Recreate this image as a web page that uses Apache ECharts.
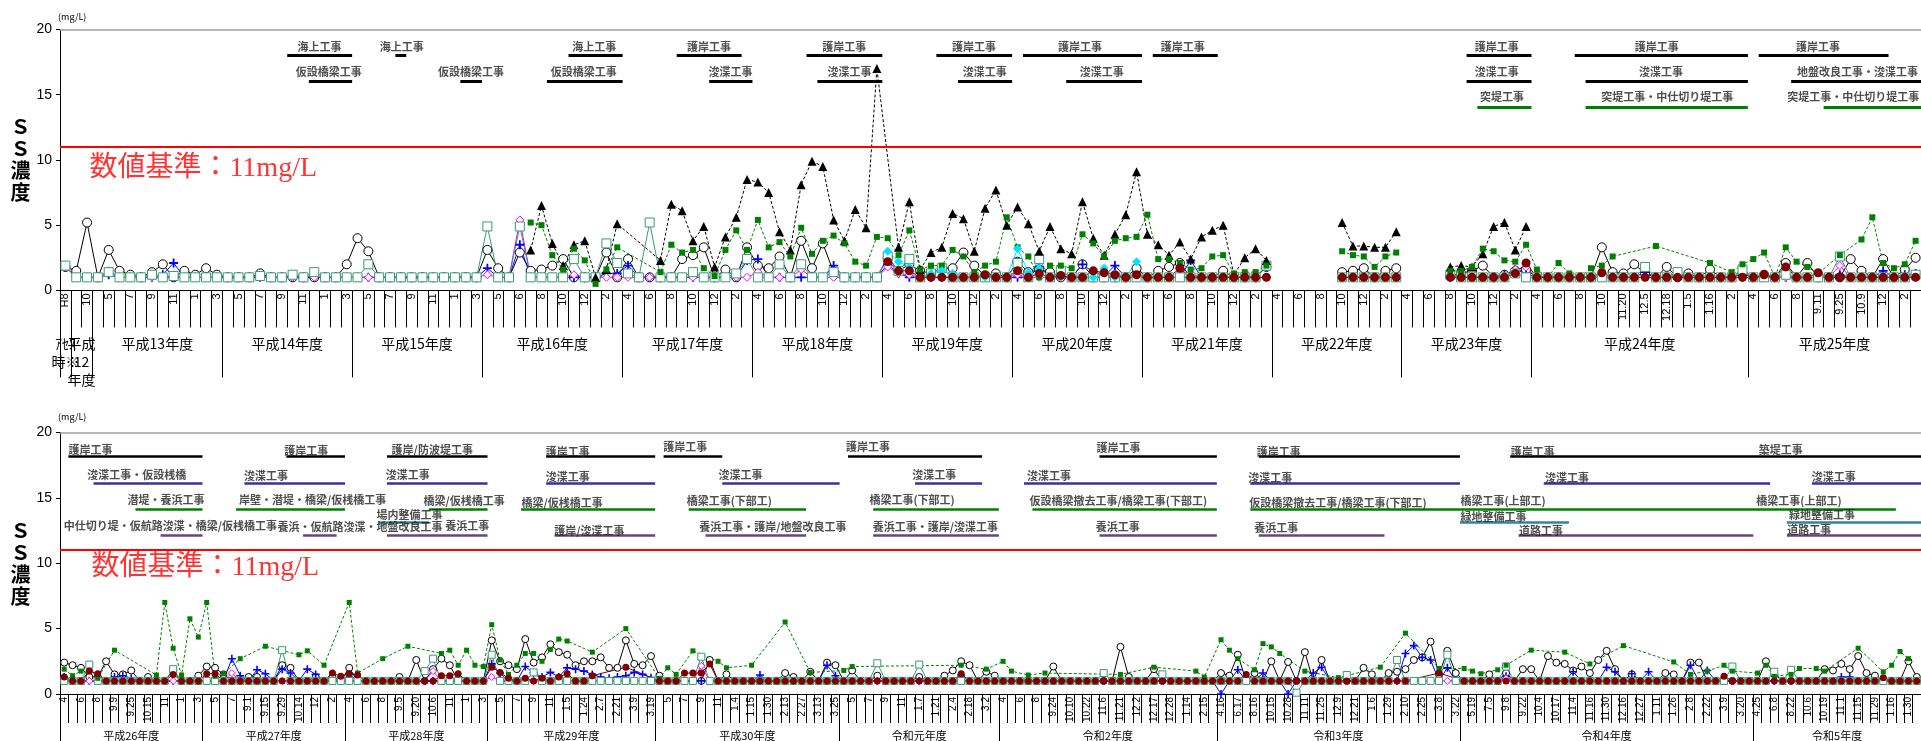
<!DOCTYPE html>
<html>
<head>
<meta charset="utf-8">
<script src="https://cdn.jsdelivr.net/npm/echarts@6/dist/echarts.min.js"></script>
<style>
html,body{margin:0;padding:0;background:#ffffff;}
#c{width:1921px;height:741px;}
</style>
</head>
<body>
<div id="c"></div>
<script>
const _ = null;
const THRESHOLD = 11;   // 数値基準 (mg/L)

const FONT_JP = '"Noto Sans CJK JP", sans-serif';
const FONT_NUM = '"Liberation Sans", Arial, sans-serif';
const FONT_SERIF = '"Liberation Serif", "Noto Sans CJK JP", serif';

/* ================= 上段：アセス時〜平成25年度 ================= */
const topYearNames = ['ｱｾｽ\n時※', '平成\n12\n年度', '平成13年度', '平成14年度', '平成15年度', '平成16年度',
  '平成17年度', '平成18年度', '平成19年度', '平成20年度', '平成21年度', '平成22年度', '平成23年度',
  '平成24年度', '平成25年度'];
const topYearSizes = [1, 2, 12, 12, 12, 13, 12, 12, 12, 12, 12, 12, 12, 20, 16];

const tickPre = ['H8', '', '10'];
const tickH13 = ['', '5', '', '7', '', '9', '', '11', '', '1', '', '3'];
const tickH14 = ['', '5', '', '7', '', '9', '', '11', '', '1', '', '3'];
const tickH15 = ['', '5', '', '7', '', '9', '', '11', '', '1', '', '3'];
const tickH16 = ['', '5', '', '6', '', '8', '', '10', '', '12', '', '2', ''];
const tickEven = ['4', '', '6', '', '8', '', '10', '', '12', '', '2', ''];
const tickH24 = ['4', '', '6', '', '8', '', '10', '', '11.20', '', '12.5', '', '12.18', '', '1.5', '', '1.16', '', '2', ''];
const tickH25 = ['4', '', '6', '', '8', '', '9.11', '', '9.25', '', '10.9', '', '12', '', '2', ''];
const topTickLabels = [].concat(tickPre, tickH13, tickH14, tickH15, tickH16,
  tickEven, tickEven, tickEven, tickEven, tickEven, tickEven, tickEven, tickH24, tickH25);

// measurement gaps split the polylines (平成22年度 / 平成23年度)
const topSegments = [[0, 112], [112, 124], [124, 172]];

const topCircle = [
  1.8,1.5,5.2,1.0,3.1,1.5,1.2,1.0,1.4,2.0,
  1.0,1.5,1.2,1.7,1.2,1.0,1.0,1.0,1.3,1.0,
  1.0,1.0,1.0,1.0,1.0,1.0,2.0,4.0,3.0,1.0,
  1.0,1.0,1.0,1.0,1.0,1.0,1.0,1.0,1.0,3.1,
  1.7,1.0,2.9,1.5,1.6,1.9,2.4,1.0,1.0,1.0,
  2.9,1.0,2.4,1.0,1.0,1.0,1.0,2.4,2.7,3.3,
  1.0,1.6,1.0,3.3,1.9,1.7,2.6,1.0,3.8,1.7,
  3.6,1.4,1.0,1.0,1.0,1.0,2.5,1.5,2.0,1.5,
  1.3,1.7,1.7,2.9,1.9,1.1,1.3,1.0,2.2,1.4,
  1.6,1.4,1.0,1.0,2.0,1.0,1.0,1.0,1.0,1.7,
  1.0,1.5,1.8,2.1,1.0,1.0,1.0,1.5,1.0,1.0,
  1.0,1.8,_,_,_,_,_,_,1.4,1.5,
  1.7,1.0,1.5,1.7,_,_,_,_,1.1,1.3,
  1.5,1.9,1.0,1.2,1.5,1.6,1.0,1.0,1.0,1.0,
  1.0,1.0,3.3,1.4,1.3,2.0,1.3,1.0,1.8,1.0,
  1.3,1.0,1.6,1.0,1.0,1.3,1.0,1.2,1.0,2.1,
  1.0,2.1,1.0,1.0,1.0,2.4,1.5,1.0,2.4,1.0,
  1.6,2.5];
const topPlus = [
  1.8,1.0,1.0,1.0,1.2,1.0,1.0,1.0,1.0,1.2,
  2.1,1.0,1.0,1.0,1.0,1.0,1.0,1.0,1.0,1.0,
  1.0,1.0,1.0,1.0,1.0,1.0,1.0,1.0,1.0,1.0,
  1.0,1.0,1.0,1.0,1.0,1.0,1.0,1.0,1.0,1.7,
  1.0,1.0,3.5,1.0,1.0,1.0,1.0,1.0,1.0,1.0,
  1.3,1.3,1.9,1.0,1.0,1.0,1.0,1.0,1.0,1.0,
  1.0,1.0,1.0,2.3,2.4,1.0,1.0,1.0,1.0,1.0,
  1.0,1.9,1.0,1.0,1.0,1.0,2.0,1.3,1.0,1.0,
  1.0,1.0,1.0,1.0,1.0,1.0,1.0,1.0,1.0,1.0,
  1.8,1.0,1.0,1.0,2.0,1.4,1.1,1.9,1.0,1.0,
  1.0,1.0,1.0,1.0,2.3,1.0,1.0,1.0,1.0,1.0,
  1.0,1.8,_,_,_,_,_,_,1.0,1.0,
  1.0,1.0,1.0,1.0,_,_,_,_,1.0,1.0,
  1.0,1.0,1.0,1.2,1.6,1.3,1.0,1.0,1.0,1.0,
  1.0,1.0,1.0,1.0,1.0,1.0,1.4,1.0,1.0,1.2,
  1.0,1.0,1.0,1.0,1.0,1.0,1.0,1.0,1.0,1.0,
  1.0,1.0,1.0,1.0,1.2,1.0,1.0,1.0,1.5,1.0,
  1.2,1.3];
const topDiamond = [
  1.8,1.0,1.0,1.0,1.5,1.0,1.0,1.0,1.0,1.0,
  1.0,1.0,1.0,1.0,1.0,1.0,1.0,1.0,1.0,1.0,
  1.0,1.0,1.1,1.0,1.0,1.0,1.0,1.0,1.0,1.0,
  1.0,1.0,1.0,1.0,1.0,1.0,1.0,1.0,1.0,1.2,
  1.0,1.0,5.4,1.0,1.0,1.0,1.0,1.2,1.0,1.0,
  1.0,1.0,1.0,1.0,1.0,1.0,1.0,1.0,1.0,1.0,
  1.0,1.0,1.0,1.0,1.4,1.0,1.0,1.0,1.6,1.0,
  1.0,1.0,1.0,1.0,1.0,1.0,1.8,1.3,1.2,1.0,
  1.0,1.0,1.0,1.0,1.0,1.0,1.0,1.0,1.2,1.0,
  1.0,1.0,1.0,1.0,1.0,1.0,1.0,1.2,1.0,1.0,
  1.0,1.0,1.0,1.0,1.0,1.0,1.0,1.0,1.0,1.0,
  1.0,1.0,_,_,_,_,_,_,1.0,1.0,
  1.0,1.0,1.0,1.0,_,_,_,_,1.0,1.0,
  1.0,1.0,1.0,1.0,1.6,1.8,1.0,1.0,1.0,1.0,
  1.0,1.0,1.0,1.0,1.0,1.0,1.0,1.0,1.0,1.0,
  1.0,1.0,1.0,1.0,1.0,1.0,1.0,1.0,1.0,1.0,
  1.0,1.0,1.0,1.0,1.9,1.0,1.0,1.0,1.0,1.0,
  1.0,1.0];
const topSquare = [
  1.9,1.0,1.0,1.0,1.4,1.0,1.0,1.0,1.2,1.0,
  1.1,1.0,1.0,1.0,1.0,1.0,1.0,1.0,1.1,1.0,
  1.0,1.2,1.0,1.4,1.0,1.0,1.0,1.0,2.0,1.0,
  1.0,1.0,1.0,1.0,1.0,1.0,1.0,1.0,1.0,4.9,
  1.0,1.0,4.9,1.0,1.0,1.0,1.0,2.4,1.0,1.0,
  3.6,2.1,1.3,1.0,5.2,1.0,1.0,1.0,1.4,1.0,
  1.0,1.0,1.3,2.4,1.0,1.0,2.0,1.0,2.0,1.0,
  1.0,1.4,1.0,1.0,1.0,1.0,2.6,1.5,2.4,1.0,
  1.3,1.7,1.0,1.0,1.0,1.0,1.0,1.0,2.1,1.0,
  2.4,1.0,1.5,1.0,1.0,1.0,1.0,1.0,1.0,1.0,
  1.0,1.0,1.0,1.0,1.0,1.0,1.0,1.0,1.0,1.0,
  1.0,1.9,_,_,_,_,_,_,1.0,1.0,
  1.0,1.0,1.0,1.0,_,_,_,_,1.2,1.0,
  1.0,1.0,1.0,1.0,1.3,1.0,1.0,1.0,1.0,1.0,
  1.0,1.0,1.0,1.0,1.0,1.0,1.8,1.0,1.0,1.4,
  1.0,1.0,1.0,1.0,1.0,1.6,1.0,1.0,1.0,1.2,
  1.0,1.0,1.0,1.0,2.6,1.0,1.0,1.0,1.0,1.0,
  1.0,1.2];
const topTriangle = [
  _,_,_,_,_,_,_,_,_,_,
  _,_,_,_,_,_,_,_,_,_,
  _,_,_,_,_,_,_,_,_,_,
  _,_,_,_,_,_,_,_,_,_,
  _,_,_,3.1,6.5,3.6,1.9,3.5,3.8,1.0,
  1.6,5.1,_,_,_,2.3,6.6,6.1,3.8,4.9,
  1.8,4.1,5.6,8.5,8.3,7.5,4.5,3.1,8.1,9.9,
  9.5,5.4,3.8,6.2,4.8,17.0,_,3.3,6.8,1.6,
  2.9,3.3,5.9,5.5,3.0,6.3,7.7,5.0,6.4,5.1,
  3.0,4.9,3.2,2.8,6.8,4.0,2.7,4.3,5.8,9.1,
  4.3,3.5,2.7,3.7,2.4,4.1,4.6,5.0,1.2,2.5,
  3.2,2.3,_,_,_,_,_,_,5.2,3.4,
  3.4,3.3,3.3,4.5,_,_,_,_,1.8,1.9,
  1.8,2.8,4.9,5.2,3.1,4.9,_,_,_,_,
  _,_,_,_,_,_,_,_,_,_,
  _,_,_,_,_,_,_,_,_,_,
  _,_,_,_,_,_,_,_,_,_,
  _,_];
const topGreen = [
  _,_,_,_,_,_,_,_,_,_,
  _,_,_,_,_,_,_,_,_,_,
  _,_,_,_,_,_,_,_,_,_,
  _,_,_,_,_,_,_,_,_,_,
  _,_,_,5.2,5.0,2.7,1.6,3.2,2.3,0.5,
  1.6,3.3,_,_,_,1.4,3.5,2.9,3.1,1.7,
  1.1,3.1,4.6,3.1,5.4,3.3,3.7,2.6,4.8,2.8,
  3.8,4.2,3.6,2.2,1.9,4.1,4.0,2.7,4.6,1.6,
  1.9,1.9,3.1,2.6,1.4,1.9,2.2,5.6,3.3,2.6,
  1.0,1.9,1.9,1.7,4.3,3.6,2.6,3.8,4.0,4.1,
  5.8,2.4,2.4,2.1,1.6,1.7,2.6,2.7,1.3,1.4,
  1.4,1.9,_,_,_,_,_,_,3.0,2.7,
  2.6,1.8,2.6,2.9,_,_,_,_,1.5,1.5,
  1.8,3.2,3.0,2.3,2.2,3.5,1.6,1.0,2.1,1.3,
  1.0,1.7,1.9,2.6,_,_,_,3.4,_,_,
  _,_,2.1,_,1.4,2.0,2.4,2.9,1.0,3.3,
  2.2,1.8,1.3,_,2.7,_,3.9,5.6,2.1,1.7,
  2.0,3.8];
const topCyan = [
  _,_,_,_,_,_,_,_,_,_,
  _,_,_,_,_,_,_,_,_,_,
  _,_,_,_,_,_,_,_,_,_,
  _,_,_,_,_,_,_,_,_,_,
  _,_,_,_,_,_,_,_,_,_,
  _,_,_,_,_,_,_,_,_,_,
  _,_,_,_,_,_,_,_,_,_,
  _,_,_,_,_,_,3.0,2.2,1.8,1.0,
  1.3,1.5,1.3,1.0,1.0,1.0,1.0,1.0,3.2,1.4,
  1.7,1.0,1.0,1.0,1.0,1.0,1.7,1.0,1.0,2.2,
  _,_,_,_,_,_,_,_,_,_,
  _,_,_,_,_,_,_,_,_,_,
  _,_,_,_,_,_,_,_,_,_,
  _,_,_,_,_,_,_,_,_,_,
  _,_,_,_,_,_,_,_,_,_,
  _,_,_,_,_,_,_,_,_,_,
  _,_,_,_,_,_,_,_,_,_,
  _,_];
const topMaroon = [
  _,_,_,_,_,_,_,_,_,_,
  _,_,_,_,_,_,_,_,_,_,
  _,_,_,_,_,_,_,_,_,_,
  _,_,_,_,_,_,_,_,_,_,
  _,_,_,_,_,_,_,_,_,_,
  _,_,_,_,_,_,_,_,_,_,
  _,_,_,_,_,_,_,_,_,_,
  _,_,_,_,_,_,2.2,1.5,1.5,1.0,
  1.0,1.0,1.0,1.0,1.0,1.2,1.0,1.0,1.5,1.0,
  1.3,1.0,1.15,1.0,1.0,1.5,1.35,1.2,1.0,1.2,
  1.0,1.0,1.0,1.7,1.0,1.0,1.0,1.0,1.0,1.0,
  1.0,1.0,_,_,_,_,_,_,1.0,1.0,
  1.0,1.0,1.0,1.0,_,_,_,_,1.0,1.0,
  1.0,1.0,1.0,1.0,1.3,2.1,1.0,1.0,1.0,1.0,
  1.0,1.0,1.35,1.0,1.0,1.0,1.0,1.0,1.0,1.0,
  1.0,1.0,1.0,1.0,1.0,1.0,1.0,1.2,1.0,1.8,
  1.0,1.0,1.35,1.0,1.0,1.0,1.0,1.0,1.0,1.0,
  1.0,1.0];

// 工事期間： [label, labelX, labelY, barFrom, barTo, barY, colour]
const topNotes = [
  ['海上工事', 21.9, 18.65, 21, 27, 18, 'k'],
  ['海上工事', 29.5, 18.65, 31, 32, 18, 'k'],
  ['仮設橋梁工事', 21.75, 16.75, 23, 27, 16, 'k'],
  ['仮設橋梁工事', 34.9, 16.75, 37, 39, 16, 'k'],
  ['海上工事', 47.3, 18.65, 47, 52, 18, 'k'],
  ['仮設橋梁工事', 45.3, 16.75, 45, 52, 16, 'k'],
  ['護岸工事', 57.9, 18.65, 57, 63, 18, 'k'],
  ['浚渫工事', 59.9, 16.75, 60, 64, 16, 'k'],
  ['護岸工事', 70.4, 18.65, 69, 76, 18, 'k'],
  ['浚渫工事', 70.9, 16.75, 70, 76, 16, 'k'],
  ['護岸工事', 82.4, 18.65, 81, 88, 18, 'k'],
  ['浚渫工事', 83.4, 16.75, 83, 88, 16, 'k'],
  ['護岸工事', 92.2, 18.65, 89, 100, 18, 'k'],
  ['浚渫工事', 94.2, 16.75, 93, 100, 16, 'k'],
  ['護岸工事', 101.7, 18.65, 101, 107, 18, 'k'],
  ['護岸工事', 130.7, 18.65, 130, 136, 18, 'k'],
  ['浚渫工事', 130.7, 16.75, 130, 136, 16, 'k'],
  ['突堤工事', 131.2, 14.85, 131, 136, 14, 'g'],
  ['護岸工事', 145.5, 18.65, 140, 156, 18, 'k'],
  ['浚渫工事', 145.9, 16.75, 141, 156, 16, 'k'],
  ['突堤工事・中仕切り堤工事', 142.4, 14.85, 141, 156, 14, 'g'],
  ['護岸工事', 160.4, 18.65, 157, 169, 18, 'k'],
  ['地盤改良工事・浚渫工事', 160.5, 16.75, 160, 172, 16, 'k'],
  ['突堤工事・中仕切り堤工事', 159.6, 14.85, 163, 172, 14, 'g']
];

/* ================= 下段：平成26年度〜令和5年度 ================= */
const botYearNames = ['平成26年度', '平成27年度', '平成28年度', '平成29年度', '平成30年度',
  '令和元年度', '令和2年度', '令和3年度', '令和4年度', '令和5年度'];
const botYearSizes = [17, 17, 17, 20, 22, 19, 26, 29, 35, 20];

const tickH26 = ['4', '', '6', '', '8', '', '9.9', '', '9.25', '', '10.15', '', '11', '', '1', '', '3'];
const tickH27 = ['', '5', '', '7', '', '9.1', '', '9.15', '', '9.29', '', '10.14', '', '12', '', '2', ''];
const tickH28 = ['4', '', '6', '', '8', '', '9.5', '', '9.20', '', '10.6', '', '11', '', '1', '', '3'];
const tickH29 = ['', '5', '', '7', '', '9', '', '11', '', '1.5', '', '1.24', '', '2.7', '', '2.21', '', '3.9', '', '3.19'];
const tickH30 = ['', '5', '', '7', '', '9', '', '11', '', '1.4', '', '1.15', '', '1.30', '', '2.13', '', '2.27', '', '3.13', '', '3.25'];
const tickR1 = ['', '5', '', '7', '', '9', '', '11', '', '1.7', '', '1.21', '', '2.4', '', '2.18', '', '3.2', ''];
const tickR2 = ['4', '', '6', '', '8', '', '9.24', '', '10.10', '', '10.22', '', '11.6', '', '11.21', '', '12.2', '', '12.17', '', '12.28', '', '1.14', '', '2.15', ''];
const tickR3 = ['4.16', '', '6.17', '', '8.16', '', '10.15', '', '10.28', '', '11.11', '', '11.25', '', '12.9', '', '12.21', '', '1.6', '', '1.29', '', '2.10', '', '2.25', '', '3.8', '', '3.22'];
const tickR4 = ['', '5.19', '', '7.5', '', '9.8', '', '9.22', '', '10.4', '', '10.17', '', '11.4', '', '11.16', '', '11.30', '', '12.16', '', '12.27', '', '1.11', '', '1.26', '', '2.8', '', '2.22', '', '3.9', '', '3.20', ''];
const tickR5 = ['4.25', '', '6.8', '', '8.22', '', '10.6', '', '10.19', '', '11.1', '', '11.15', '', '11.29', '', '1.16', '', '1.30', ''];
const botTickLabels = [].concat(tickH26, tickH27, tickH28, tickH29, tickH30, tickR1, tickR2, tickR3, tickR4, tickR5);
const botSegments = [[0, 222]];

const botCircle = [
  2.4,2.2,2.0,1.3,1.3,2.5,1.5,1.5,1.8,1.0,
  1.3,1.0,1.0,1.8,1.0,1.0,1.4,2.1,2.0,1.5,
  1.0,1.0,1.3,1.3,1.0,1.0,2.2,2.0,1.0,1.0,
  1.3,1.0,1.3,1.0,2.0,1.0,1.0,1.0,1.0,1.0,
  1.3,1.0,2.6,1.0,1.9,2.7,2.2,1.0,1.0,1.0,
  1.0,4.1,2.5,2.2,1.9,4.2,2.4,2.8,3.8,3.2,
  3.0,2.2,2.5,2.5,2.8,2.0,2.0,4.1,2.3,2.2,
  2.9,1.4,1.0,1.0,1.0,1.0,1.0,2.6,1.0,1.5,
  1.0,1.0,1.0,1.0,1.0,1.0,1.6,1.3,1.0,1.7,
  1.0,2.4,2.2,1.0,1.8,1.0,1.0,1.4,1.0,1.0,
  1.0,1.0,1.3,1.0,1.0,1.4,1.8,2.5,2.2,1.0,
  1.7,1.4,1.0,1.0,1.0,1.0,1.0,1.0,2.1,1.0,
  1.0,1.0,1.0,1.0,1.0,1.0,3.6,1.3,1.0,1.0,
  1.9,1.0,1.0,1.0,1.0,1.0,1.0,1.0,1.6,1.4,
  3.0,1.0,1.6,1.0,2.5,1.0,2.45,1.0,3.2,1.0,
  2.6,1.0,1.0,1.0,1.0,2.0,1.5,1.0,1.6,1.7,
  1.9,2.6,2.8,4.0,1.5,3.3,1.6,1.0,1.0,1.0,
  1.5,1.0,1.6,1.0,1.9,1.9,1.0,2.9,2.4,2.3,
  1.8,2.1,1.6,2.6,3.3,1.9,1.0,1.5,1.0,1.0,
  1.0,1.6,1.5,1.0,2.4,2.4,1.0,1.0,1.0,1.0,
  1.0,1.0,1.0,2.5,1.5,1.0,1.0,1.0,1.0,1.0,
  1.9,1.8,2.3,1.9,2.9,1.6,1.4,1.0,1.0,1.0,
  2.5,1.3];
const botPlus = [
  1.3,1.0,1.0,1.0,1.0,1.0,1.3,1.4,1.2,1.0,
  1.0,1.0,1.0,1.0,1.0,1.0,1.0,1.0,1.0,1.0,
  2.7,1.4,1.0,1.85,1.55,1.0,1.9,1.6,1.0,1.9,
  1.5,1.0,1.0,1.0,1.5,1.0,1.0,1.0,1.0,1.0,
  1.0,1.0,1.0,1.0,1.0,1.0,1.0,1.0,1.0,1.0,
  1.0,2.3,1.6,1.0,1.0,2.1,1.6,1.3,1.65,1.3,
  2.0,1.9,1.75,1.5,1.3,1.2,1.3,1.4,1.65,1.5,
  1.25,1.0,1.0,1.0,1.0,1.0,1.0,1.0,1.0,1.0,
  1.0,1.0,1.0,1.45,1.0,1.0,1.0,1.0,1.0,1.0,
  1.0,2.2,1.4,1.0,1.0,1.0,1.0,1.0,1.0,1.0,
  1.0,1.0,1.0,1.0,1.0,1.0,1.0,1.45,1.0,1.0,
  1.0,1.0,1.0,1.0,1.0,1.0,1.0,1.0,1.0,1.0,
  1.0,1.0,1.0,1.0,1.0,1.0,1.0,1.0,1.0,1.0,
  1.0,1.0,1.0,1.0,1.0,1.0,1.0,1.0,0.0,1.0,
  1.85,1.0,1.0,1.6,1.0,1.0,0.0,1.0,1.0,1.6,
  2.05,1.0,1.0,1.0,1.0,1.0,1.0,1.0,1.0,1.0,
  3.1,3.7,2.8,2.6,1.0,2.0,1.0,1.0,1.0,1.0,
  1.0,1.0,1.35,1.0,1.0,1.0,1.0,1.0,1.0,1.0,
  1.7,1.0,1.0,1.0,2.05,1.7,1.0,1.55,1.0,1.7,
  1.0,1.0,1.0,1.0,2.2,1.0,1.8,1.0,1.0,1.0,
  1.0,1.0,1.0,1.0,1.0,1.0,1.0,1.0,1.0,1.0,
  1.0,1.0,1.3,1.3,1.0,1.0,1.0,1.0,1.0,1.0,
  1.0,1.0];
const botDiamond = [
  1.0,1.0,1.0,1.0,1.0,1.0,1.0,1.0,1.0,1.0,
  1.0,1.0,1.0,1.0,1.0,1.0,1.0,1.0,1.0,1.0,
  1.6,1.0,1.0,1.0,1.0,1.0,1.0,1.0,1.0,1.0,
  1.0,1.0,1.0,1.0,1.0,1.0,1.0,1.0,1.0,1.0,
  1.0,1.0,1.0,1.0,1.75,1.0,1.0,1.0,1.0,1.0,
  1.0,1.3,1.0,1.0,1.0,1.0,1.0,1.0,1.0,1.0,
  1.0,1.0,1.0,1.0,1.0,1.0,1.0,1.0,1.0,1.0,
  1.0,1.0,1.0,1.0,1.0,1.0,2.15,1.0,1.0,1.0,
  1.0,1.0,1.0,1.0,1.0,1.0,1.0,1.0,1.0,1.0,
  1.0,1.0,1.0,1.0,1.0,1.0,1.0,1.0,1.0,1.0,
  1.0,1.0,1.0,1.0,1.0,1.0,1.0,1.0,1.0,1.0,
  1.0,1.0,1.0,1.0,1.0,1.0,1.0,1.0,1.0,1.0,
  1.0,1.0,1.0,1.0,1.0,1.0,1.0,1.0,1.0,1.0,
  1.0,1.0,1.0,1.0,1.0,1.0,1.0,1.0,1.0,1.0,
  1.0,1.0,1.0,1.0,1.0,1.0,1.0,1.0,1.0,1.0,
  1.0,1.0,1.0,1.0,1.0,1.0,1.0,1.0,1.0,1.0,
  1.0,1.0,1.0,1.0,1.0,1.0,1.0,1.0,1.0,1.0,
  1.0,1.0,1.2,1.0,1.0,1.0,1.0,1.0,1.0,1.0,
  1.0,1.0,1.0,1.0,1.0,1.0,1.0,1.0,1.0,1.0,
  1.0,1.0,1.0,1.0,1.0,1.0,1.0,1.0,1.0,1.0,
  1.0,1.0,1.0,1.0,1.0,1.0,1.0,1.0,1.0,1.0,
  1.0,1.0,1.0,1.0,1.0,1.0,1.0,1.0,1.0,1.0,
  1.0,1.0];
const botSquare = [
  1.0,1.0,1.0,2.25,1.0,1.0,1.0,1.0,1.0,1.0,
  1.0,1.0,1.0,1.9,1.0,1.0,1.0,1.0,1.0,1.0,
  1.0,1.0,1.0,1.0,1.0,1.0,3.35,1.0,1.0,1.0,
  1.0,1.0,1.0,1.0,1.0,1.0,1.0,1.0,1.0,1.0,
  1.0,1.0,1.0,1.75,2.7,1.0,1.0,1.0,1.0,1.0,
  1.0,3.0,1.0,1.0,1.0,1.0,1.65,1.0,1.0,1.0,
  1.0,1.0,1.0,1.0,1.0,1.0,1.0,1.0,1.0,1.0,
  1.0,1.0,1.0,1.0,1.0,1.0,2.85,1.0,1.0,1.0,
  1.0,1.0,1.0,1.0,1.0,1.0,1.0,1.0,1.0,1.0,
  1.0,1.0,1.0,1.0,1.0,1.0,1.0,2.35,1.0,1.0,
  1.0,1.0,2.25,1.0,1.0,1.0,1.0,1.0,1.0,1.0,
  1.0,1.0,1.0,1.0,1.0,1.0,1.0,1.0,1.0,1.0,
  1.0,1.0,1.0,1.0,1.6,1.0,1.0,1.0,1.0,1.0,
  1.0,1.5,1.0,1.0,1.0,1.0,1.0,1.0,1.0,1.0,
  1.0,1.0,1.0,1.0,1.0,1.0,1.0,0.1,1.0,1.0,
  1.0,1.0,1.0,1.45,1.0,1.0,1.0,1.0,1.0,2.6,
  1.0,1.0,1.0,1.0,1.0,3.0,1.0,1.0,1.0,1.0,
  1.0,1.0,2.1,1.0,1.0,1.0,1.0,1.0,1.0,1.0,
  1.0,1.0,1.0,1.0,1.0,1.0,1.0,1.0,1.0,1.0,
  1.0,1.0,1.0,1.0,1.0,1.0,1.0,1.0,1.0,2.1,
  1.0,1.0,1.0,1.0,1.7,1.0,1.85,1.0,1.0,1.0,
  1.0,1.0,1.0,1.0,1.0,1.0,1.0,1.0,1.0,1.0,
  1.0,1.0];
const botGreen = [
  1.9,1.4,1.75,_,1.2,_,3.35,_,_,_,
  _,1.45,7.0,3.5,1.45,5.75,4.35,7.0,1.35,1.55,
  _,2.7,_,_,3.65,_,_,_,3.0,3.3,
  _,2.2,_,_,7.0,1.6,_,_,2.7,_,
  _,3.65,_,_,_,3.1,3.35,2.2,3.35,2.2,
  2.1,5.3,2.6,1.5,2.2,3.1,3.1,2.5,3.4,4.2,
  4.05,_,_,3.2,_,_,_,5.0,_,_,
  _,1.2,2.0,1.5,_,3.3,_,_,2.5,2.0,
  _,_,2.2,_,_,_,5.5,_,_,1.65,
  _,_,_,1.8,2.1,_,_,_,_,_,
  _,_,_,_,_,_,_,2.2,_,_,
  1.9,_,2.5,1.75,_,1.45,_,1.6,_,_,
  _,_,_,_,_,_,1.5,_,_,_,
  2.05,_,_,_,_,1.75,1.3,_,4.15,3.35,
  2.7,_,1.85,3.85,3.6,3.1,_,_,1.75,_,
  _,_,1.25,_,_,_,_,2.05,_,_,
  4.65,_,_,_,1.95,_,_,1.95,1.75,1.55,
  _,1.85,2.2,_,_,3.35,_,_,_,3.2,
  _,_,2.3,_,_,_,3.7,_,_,_,
  _,_,2.45,_,1.5,_,1.75,_,2.2,1.75,
  _,_,1.6,2.2,1.35,_,1.5,1.95,_,1.95,
  1.75,_,_,_,3.5,_,_,1.7,2.2,3.25,
  2.7,_];
const botMaroon = [
  1.3,1.0,1.0,1.75,1.55,1.0,1.0,1.0,1.0,1.0,
  1.0,1.0,1.0,1.5,1.0,1.0,1.0,1.55,1.55,1.0,
  1.0,1.0,1.0,1.0,1.0,1.0,1.0,1.0,1.0,1.0,
  1.0,1.0,1.6,1.35,1.55,1.45,1.0,1.0,1.0,1.0,
  1.0,1.0,1.0,1.0,1.0,1.4,1.4,1.55,1.0,1.0,
  1.0,2.05,1.65,1.2,1.0,1.2,1.0,1.2,1.0,1.3,
  1.55,1.0,1.0,1.4,_,_,_,2.05,_,_,
  _,1.0,1.0,1.0,1.6,1.6,1.6,2.3,1.0,1.0,
  1.0,1.0,1.0,1.0,1.0,1.0,1.0,1.0,1.0,1.0,
  1.0,1.0,1.0,1.0,1.0,1.0,1.0,1.0,1.0,1.0,
  1.0,1.0,1.0,1.0,1.0,1.0,1.0,1.55,1.0,1.0,
  1.0,1.0,1.0,1.0,1.0,1.0,1.0,1.0,1.0,1.0,
  1.0,1.0,1.0,1.0,1.0,1.0,1.0,1.0,1.0,1.0,
  1.0,1.0,1.0,1.0,1.0,1.0,1.0,1.0,1.0,1.0,
  1.0,1.5,1.0,1.0,1.0,1.0,1.0,1.0,1.0,1.0,
  1.0,1.0,1.0,1.0,1.0,1.0,1.0,1.0,1.0,1.0,
  1.0,_,_,_,1.6,_,_,1.0,1.0,1.0,
  1.0,1.0,1.0,1.0,1.0,1.0,1.0,1.0,1.0,1.0,
  1.0,1.0,1.0,1.0,1.0,1.0,1.0,1.0,1.0,1.0,
  1.0,1.0,1.0,1.0,1.0,1.0,1.0,1.0,1.35,1.0,
  1.0,1.0,1.0,1.0,1.0,1.0,1.0,1.0,1.0,1.0,
  1.0,1.0,1.0,1.0,1.0,1.0,1.0,1.25,1.0,1.0,
  1.0,1.0];

const botNotes = [
  ['護岸工事', 0.95, 18.7, 1, 17, 18.15, 'k'],
  ['浚渫工事・仮設桟橋', 3.2, 16.75, 4, 17, 16.1, 'n'],
  ['潜堤・養浜工事', 8.0, 14.85, 9, 17, 14.1, 'g'],
  ['中仕切り堤・仮航路浚渫・橋梁/仮桟橋工事', 0.4, 12.85, 12, 17, 12.12, 'p'],
  ['護岸工事', 26.7, 18.6, 27, 34, 18.15, 'k'],
  ['浚渫工事', 21.9, 16.7, 22, 34, 16.1, 'n'],
  ['岸壁・潜堤・橋梁/仮桟橋工事', 21.3, 14.85, 21, 34, 14.1, 'g'],
  ['養浜・仮航路浚渫・地盤改良工事', 25.9, 12.8, 29, 33, 12.12, 'p'],
  ['護岸/防波堤工事', 39.5, 18.7, 39, 51, 18.15, 'k'],
  ['浚渫工事', 38.8, 16.75, 39, 51, 16.1, 'n'],
  ['橋梁/仮桟橋工事', 43.3, 14.8, 44, 51, 14.1, 'g'],
  ['場内整備工事', 37.7, 13.7, 38, 44, 13.1, 't'],
  ['養浜工事', 45.9, 12.85, 39, 51, 12.12, 'p'],
  ['護岸工事', 57.9, 18.55, 58, 71, 18.15, 'k'],
  ['浚渫工事', 57.9, 16.6, 58, 71, 16.1, 'n'],
  ['橋梁/仮桟橋工事', 55.0, 14.6, 55, 71, 14.1, 'g'],
  ['護岸/浚渫工事', 58.9, 12.5, 59, 71, 12.12, 'p'],
  ['護岸工事', 71.9, 18.9, 72, 79, 18.15, 'k'],
  ['浚渫工事', 78.5, 16.75, 79, 93, 16.1, 'n'],
  ['橋梁工事(下部工)', 74.7, 14.8, 75, 89, 14.1, 'g'],
  ['養浜工事・護岸/地盤改良工事', 76.2, 12.8, 77, 89, 12.12, 'p'],
  ['護岸工事', 93.7, 18.9, 94, 110, 18.15, 'k'],
  ['浚渫工事', 101.6, 16.75, 102, 110, 16.1, 'n'],
  ['橋梁工事(下部工)', 96.5, 14.85, 97, 112, 14.1, 'g'],
  ['養浜工事・護岸/浚渫工事', 96.9, 12.8, 97, 112, 12.12, 'p'],
  ['護岸工事', 123.6, 18.8, 124, 138, 18.15, 'k'],
  ['浚渫工事', 115.3, 16.7, 115, 138, 16.1, 'n'],
  ['仮設橋梁撤去工事/橋梁工事(下部工)', 115.6, 14.75, 116, 138, 14.1, 'g'],
  ['養浜工事', 123.5, 12.8, 124, 138, 12.12, 'p'],
  ['護岸工事', 142.7, 18.55, 143, 167, 18.15, 'k'],
  ['浚渫工事', 141.7, 16.5, 142, 167, 16.1, 'n'],
  ['仮設橋梁撤去工事/橋梁工事(下部工)', 141.8, 14.6, 142, 167, 14.1, 'g'],
  ['養浜工事', 142.4, 12.7, 143, 158, 12.12, 'p'],
  ['護岸工事', 173.0, 18.55, 173, 222, 18.15, 'k'],
  ['築堤工事', 202.6, 18.7, _, _, _, 'k'],
  ['浚渫工事', 177.1, 16.5, 177, 204, 16.1, 'n'],
  ['浚渫工事', 208.9, 16.6, 209, 222, 16.1, 'n'],
  ['橋梁工事(上部工)', 167.0, 14.75, 167, 219, 14.1, 'g'],
  ['橋梁工事(上部工)', 202.3, 14.75, _, _, _, 'g'],
  ['緑地整備工事', 167.0, 13.55, 167, 180, 13.1, 't'],
  ['緑地整備工事', 206.2, 13.7, 206, 222, 13.1, 't'],
  ['道路工事', 174.0, 12.5, 174, 202, 12.12, 'p'],
  ['道路工事', 206.0, 12.55, 206, 222, 12.12, 'p']
];

const NOTE_COLORS = { k: '#000000', n: '#333399', g: '#008000', t: '#31859c', p: '#604a7b' };

// marker / line styles of the monitoring points
const PLUS_PATH = 'path://M-1,-5H1V-1H5V1H1V5H-1V1H-5V-1H-1Z';
const STYLES = {
  circle:   { color: '#000000', symbol: 'circle', size: [9, 7], hollow: true, dash: false },
  plus:     { color: '#0000ff', symbol: PLUS_PATH, size: [9, 8], hollow: false, dash: false },
  diamond:  { color: '#ff00ff', symbol: 'diamond', size: [8, 7], hollow: true, dash: false },
  square:   { color: '#3a9a74', symbol: 'rect', size: [9, 7], hollow: true, dash: false },
  triangle: { color: '#000000', symbol: 'triangle', size: [9, 8], hollow: false, dash: true },
  green:    { color: '#008000', symbol: 'rect', size: [6, 5], hollow: false, dash: true },
  cyan:     { color: '#00e5ff', symbol: 'diamond', size: [9, 8], hollow: false, dash: false },
  maroon:   { color: '#800000', symbol: 'circle', size: [9, 7], hollow: false, dash: false }
};

const panels = [
  {
    top: 29.4, height: 261, cw: 10.85, n: 172, ticks: topTickLabels,
    yearNames: topYearNames, yearSizes: topYearSizes, segments: topSegments,
    tickLen: 37, yearTickLen: 87, tickFont: 11, yearFont: 14, yearMargin: 44,
    titlePad: 28, unitTop: 12, refLabelX: 2.67, refLabelY: 9.36, barW: 3, sizeIdx: 0,
    series: [['circle', topCircle], ['plus', topPlus], ['diamond', topDiamond], ['square', topSquare],
             ['triangle', topTriangle], ['green', topGreen], ['cyan', topCyan], ['maroon', topMaroon]],
    notes: topNotes
  },
  {
    top: 432.4, height: 262.1, cw: 8.44, n: 222, ticks: botTickLabels,
    yearNames: botYearNames, yearSizes: botYearSizes, segments: botSegments,
    tickLen: 29, yearTickLen: 60, tickFont: 10, yearFont: 11, yearMargin: 34,
    titlePad: 25, unitTop: 412, refLabelX: 3.7, refLabelY: 9.63, barW: 2.5, sizeIdx: 1,
    series: [['circle', botCircle], ['plus', botPlus], ['diamond', botDiamond], ['square', botSquare],
             ['green', botGreen], ['maroon', botMaroon]],
    notes: botNotes
  }
];

// consistency check of the tables
panels.forEach((p, k) => {
  if (p.ticks.length !== p.n) throw new Error('panel ' + k + ' ticks ' + p.ticks.length);
  const ys = p.yearSizes.reduce((a, b) => a + b, 0);
  if (ys !== p.n) throw new Error('panel ' + k + ' years ' + ys);
  p.series.forEach(s => { if (s[1].length !== p.n) throw new Error('panel ' + k + ' ' + s[0] + ' ' + s[1].length); });
});

// fiscal-year boundaries and label slots; parity splits neighbours onto two axes so none get dropped
function yearHelpers(sizes, names) {
  const bounds = new Set();
  const labelAt = [{}, {}];
  let s = 0;
  sizes.forEach((c, k) => {
    bounds.add(s);
    const mid = s + Math.floor(c / 2);
    labelAt[k % 2][mid] = (c % 2 === 0 ? '{s|' : '{n|') + names[k] + '}';
    s += c;
  });
  return { bounds, labelAt };
}

const option = { animation: false, grid: [], xAxis: [], yAxis: [], series: [], graphic: [] };

panels.forEach((p, gi) => {
  option.grid.push({ left: 60, top: p.top, width: p.n * p.cw, height: p.height, containLabel: false });
  const xi = option.xAxis.length;

  // month / date ticks
  option.xAxis.push({
    gridIndex: gi, type: 'category', position: 'bottom', data: p.ticks, boundaryGap: true,
    axisLine: { show: true, onZero: false, lineStyle: { color: '#000', width: 1 } },
    axisTick: { show: true, interval: 0, length: p.tickLen, lineStyle: { color: '#000', width: 1 } },
    axisLabel: { show: true, interval: 0, rotate: 90, margin: 3, fontSize: p.tickFont, fontFamily: FONT_NUM, color: '#000',
      showMinLabel: true, showMaxLabel: true },
    splitLine: { show: false }
  });

  // continuous axis used for the construction-period annotations (also draws the frame top)
  option.xAxis.push({
    gridIndex: gi, type: 'value', position: 'top', min: 0, max: p.n,
    axisLine: { show: true, onZero: false, lineStyle: { color: '#a0a0a0', width: 1.5 } },
    axisTick: { show: false }, axisLabel: { show: false }, splitLine: { show: false }
  });

  // fiscal-year row (dividers + names)
  const yh = yearHelpers(p.yearSizes, p.yearNames);
  const yStyle = { fontSize: p.yearFont, fontFamily: FONT_JP, color: '#000', lineHeight: p.yearFont + 4 };
  [0, 1].forEach(par => {
    const lab = yh.labelAt[par];
    option.xAxis.push({
      gridIndex: gi, type: 'category', position: 'bottom', data: p.ticks, boundaryGap: true,
      axisLine: { show: false },
      axisTick: { show: par === 0, interval: (i) => yh.bounds.has(i), length: p.yearTickLen, lineStyle: { color: '#000', width: 1 } },
      axisLabel: {
        show: true, interval: (i) => lab[i] !== undefined, showMinLabel: true, showMaxLabel: true,
        formatter: (v, i) => lab[i] || '', margin: p.yearMargin,
        fontSize: p.yearFont, fontFamily: FONT_JP, color: '#000',
        rich: { n: Object.assign({}, yStyle), s: Object.assign({ padding: [0, p.cw, 0, 0] }, yStyle) }
      },
      splitLine: { show: false }
    });
  });

  option.yAxis.push({
    gridIndex: gi, type: 'value', min: 0, max: 20, interval: 5,
    axisLine: { show: true, onZero: false, lineStyle: { color: '#000', width: 1 } },
    axisTick: { show: true, length: 4, lineStyle: { color: '#000' } },
    axisLabel: { fontSize: 14, color: '#000', margin: 8, fontFamily: FONT_NUM },
    splitLine: { show: false },
    name: 'Ｓ\nＳ\n濃\n度', nameLocation: 'middle', nameRotate: 0, nameGap: 38,
    nameTextStyle: { fontSize: 20, fontWeight: 'bold', lineHeight: 22, color: '#000', fontFamily: FONT_JP,
      align: 'center', verticalAlign: 'middle', padding: [p.titlePad, 0, 0, 0] }
  });

  // monitoring series
  let first = true;
  p.series.forEach(([key, values]) => {
    const st = STYLES[key];
    p.segments.forEach(([a, b]) => {
      const d = values.map((v, i) => (i >= a && i < b) ? v : null);
      if (!d.some(v => v !== null)) return;
      const s = {
        type: 'line', xAxisIndex: xi, yAxisIndex: gi, data: d, connectNulls: true,
        symbol: st.symbol, symbolSize: st.size[p.sizeIdx], showAllSymbol: true, silent: true,
        lineStyle: { color: st.color, width: 1, type: st.dash ? [3, 2] : 'solid' },
        itemStyle: { color: st.hollow ? '#ffffff' : st.color, borderColor: st.color, borderWidth: st.hollow ? 1 : 0 },
        emphasis: { disabled: true }
      };
      if (first) {
        s.markLine = {
          silent: true, symbol: 'none', animation: false,
          lineStyle: { color: '#ff0000', width: 2, type: 'solid' },
          label: { show: false },
          data: [{ yAxis: THRESHOLD }]
        };
        first = false;
      }
      option.series.push(s);
    });
  });

  // construction-period bars
  option.series.push({
    type: 'lines', coordinateSystem: 'cartesian2d', xAxisIndex: xi + 1, yAxisIndex: gi,
    polyline: false, silent: true, z: 4,
    lineStyle: { width: p.barW, opacity: 1, curveness: 0 },
    data: p.notes.filter(nt => nt[3] !== null).map(nt => ({
      coords: [[nt[3], nt[5]], [nt[4], nt[5]]],
      lineStyle: { color: NOTE_COLORS[nt[6]], width: p.barW, opacity: 1 }
    }))
  });

  // construction names
  option.series.push({
    type: 'scatter', xAxisIndex: xi + 1, yAxisIndex: gi, symbolSize: 1, silent: true, clip: false, z: 5,
    itemStyle: { color: 'rgba(0,0,0,0)' },
    label: { show: true, position: 'right', distance: 0, fontSize: 11, fontWeight: 'bold', color: '#222222', fontFamily: FONT_JP },
    data: p.notes.map(nt => ({ value: [nt[1], nt[2]], label: { formatter: nt[0] } }))
  });

  // threshold caption
  option.series.push({
    type: 'scatter', xAxisIndex: xi + 1, yAxisIndex: gi, symbolSize: 1, silent: true, clip: false, z: 5,
    itemStyle: { color: 'rgba(0,0,0,0)' },
    label: { show: true, position: 'right', distance: 0, fontSize: 28, color: '#ff0000', fontFamily: FONT_SERIF,
      formatter: '数値基準：' + THRESHOLD + 'mg/L' },
    data: [[p.refLabelX, p.refLabelY]]
  });

  option.graphic.push({
    type: 'text', left: 58, top: p.unitTop, silent: true,
    style: { text: '(mg/L)', fontSize: 9, fill: '#000', fontFamily: FONT_JP }
  });
});

const chart = echarts.init(document.getElementById('c'), null, { renderer: 'canvas', width: 1921, height: 741 });
chart.setOption(option);
</script>
</body>
</html>
